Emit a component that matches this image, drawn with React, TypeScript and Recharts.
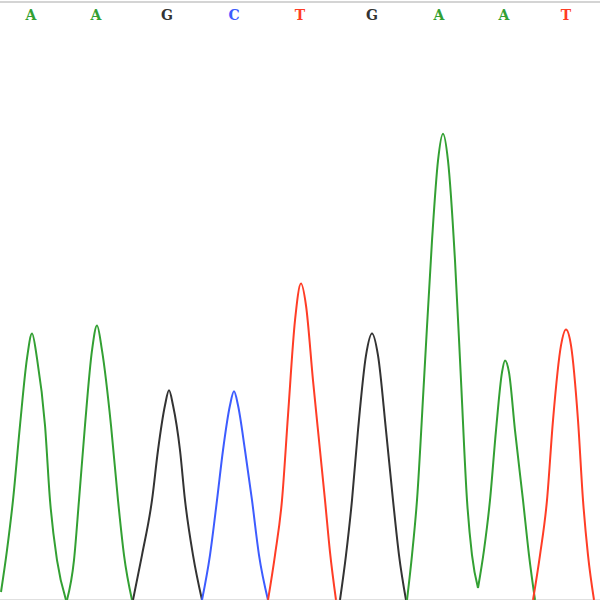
import React from 'react';
import { LineChart, Line, XAxis, YAxis, ReferenceLine } from 'recharts';

// Base calls shown across the top
const baseCalls = ['A', 'A', 'G', 'C', 'T', 'G', 'A', 'A', 'T'];
const callPositions = [31, 96, 167, 234, 300, 372, 439, 504, 566];

const baseColors: Record<string, string> = {
  A: '#33a033',
  C: '#3d5cff',
  G: '#333333',
  T: '#ff3d26',
};

// Trace peaks: [scan position, signal intensity]
const peakA1 = [[1, 8], [7, 50], [13, 100], [20, 175], [27, 242], [32, 267], [37, 242], [45, 175], [50, 100], [57, 40], [66, 0]];
const peakA2 = [[67, 0], [74, 40], [79, 100], [85, 175], [92, 250], [97, 275], [102, 250], [111, 175], [118, 100], [124, 45], [132, 0]];
const peakG1 = [[133, 0], [142, 45], [152, 100], [158, 150], [165, 195], [169, 210], [173, 195], [180, 150], [185, 100], [193, 45], [202, 0]];
const peakC1 = [[202, 0], [210, 45], [217, 100], [223, 150], [230, 195], [234, 209], [238, 195], [245, 150], [252, 100], [259, 45], [268, 0]];
const peakT1 = [[268, 0], [275, 45], [282, 100], [288, 185], [295, 280], [301, 317], [306, 295], [313, 220], [320, 150], [325, 100], [330, 48], [336, 0]];
const peakG2 = [[340, 0], [346, 45], [352, 100], [358, 170], [366, 245], [372, 267], [378, 245], [386, 170], [393, 100], [399, 45], [406, 0]];
const peakA3 = [[407, 0], [412, 45], [417, 100], [424, 220], [432, 360], [438, 440], [443, 467], [448, 440], [455, 340], [461, 220], [467, 100], [472, 45], [478, 12]];
const peakA4 = [[478, 12], [484, 50], [490, 100], [496, 170], [502, 228], [505, 240], [509, 228], [515, 170], [523, 100], [529, 45], [535, 0]];
const peakT2 = [[533, 0], [540, 45], [547, 100], [553, 180], [561, 255], [566, 271], [571, 255], [578, 180], [583, 100], [588, 45], [594, 0]];

const traces: { base: string; pts: number[][] }[] = [
  { base: 'A', pts: peakA1 },
  { base: 'A', pts: peakA2 },
  { base: 'G', pts: peakG1 },
  { base: 'C', pts: peakC1 },
  { base: 'T', pts: peakT1 },
  { base: 'G', pts: peakG2 },
  { base: 'A', pts: peakA3 },
  { base: 'A', pts: peakA4 },
  { base: 'T', pts: peakT2 },
];

const toRows = (pts: number[][]) => pts.map(([x, y]) => ({ x, y }));

const BaseTick = (props: any) => {
  const { x, index } = props;
  const b = baseCalls[index];
  return (
    <text
      x={x}
      y={20}
      textAnchor="middle"
      fill={baseColors[b]}
      fontFamily="'DejaVu Serif', serif"
      fontWeight="bold"
      fontSize={14}
    >
      {b}
    </text>
  );
};

export default function App() {
  return (
    <div style={{ position: 'absolute', left: 0, top: 0, width: 600, height: 600, background: '#fff' }}>
      <LineChart width={600} height={600} margin={{ top: 0, right: 0, bottom: 0, left: 0 }}>
        <XAxis
          type="number"
          dataKey="x"
          orientation="top"
          domain={[0, 600]}
          ticks={callPositions}
          interval={0}
          height={1}
          axisLine={false}
          tickLine={false}
          tick={<BaseTick />}
          allowDataOverflow
        />
        <YAxis type="number" dataKey="y" domain={[0, 600]} hide width={0} allowDataOverflow />
        <ReferenceLine y={599} stroke="#d4d4d4" strokeWidth={2} ifOverflow="visible" />
        <ReferenceLine y={0.5} stroke="#e0e0e0" strokeWidth={1} ifOverflow="visible" />
        {traces.map((t, i) => (
          <Line
            key={i}
            data={toRows(t.pts)}
            dataKey="y"
            type="monotone"
            stroke={baseColors[t.base]}
            strokeWidth={2}
            dot={false}
            isAnimationActive={false}
          />
        ))}
      </LineChart>
    </div>
  );
}
